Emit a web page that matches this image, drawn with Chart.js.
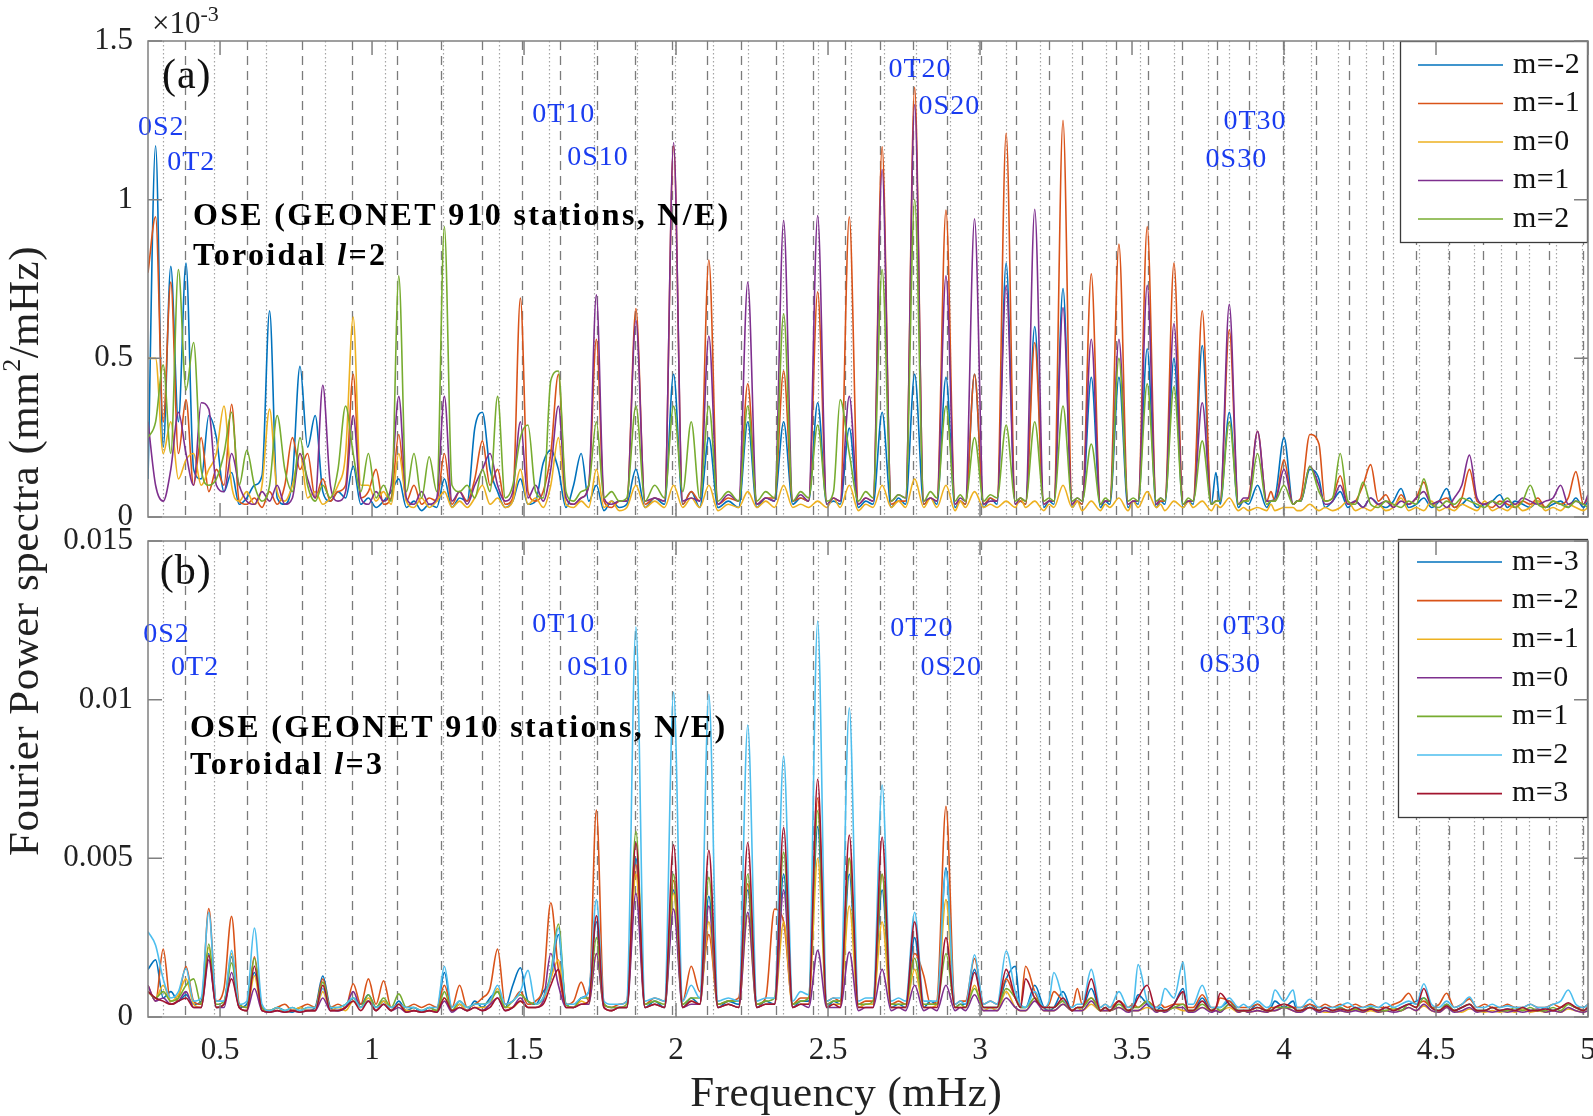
<!DOCTYPE html>
<html><head><meta charset="utf-8">
<script src="https://cdn.jsdelivr.net/npm/chart.js@4.4.1/dist/chart.umd.min.js"></script>
<style>
html,body{margin:0;padding:0;background:#fff;}
#page{position:relative;width:1593px;height:1116px;overflow:hidden;background:#fff;}
#wa{position:absolute;left:0;top:0;width:1593px;height:530px;}
#wb{position:absolute;left:0;top:515px;width:1593px;height:601px;}
#ylab{position:absolute;left:-326px;top:529px;width:700px;height:44px;line-height:44px;text-align:center;
 font-family:'Liberation Serif','Times New Roman',serif;font-size:43px;color:#222;transform:rotate(-90deg);
 transform-origin:50% 50%;white-space:nowrap;letter-spacing:0.5px}
#ylab sup{font-size:26px;line-height:0;vertical-align:18px}
</style></head>
<body><div id="page">
<div id="wa"><canvas id="ca"></canvas></div>
<div id="wb"><canvas id="cb"></canvas></div>
<div id="ylab">Fourier Power spectra (mm<sup>2</sup>/mHz)</div>
</div>
<script>
const XMIN = 0.263, XMAX = 5.0;
const X_TICKS = [0.5,1,1.5,2,2.5,3,3.5,4,4.5,5];
const Y_TICKS_A = [0,0.5,1,1.5];
const Y_TICKS_B = [0,0.005,0.01,0.015];
const X_TITLE = 'Frequency (mHz)';

// frequency grid (mHz) shared by all spectra
const GRID_LOW = [0.263,0.288,0.313,0.338,0.363,0.388,0.413,0.438,0.463,0.488,0.513,0.538,0.563,0.588,0.613,0.638,0.663,0.688,0.713,0.738,0.763,0.788,0.813,0.838,0.863,0.888,0.913,0.938,0.963,0.988,1.013,1.038,1.063,1.088,1.113,1.138,1.163,1.188,1.213,1.238,1.263,1.288,1.313,1.338,1.363,1.388,1.413,1.438,1.463,1.488,1.513,1.538,1.563,1.588,1.613,1.638,1.663,1.688,1.713,1.738,1.763,1.788,1.813];
const GRID_MODE = [
1.838,1.868,1.898,1.930, 1.962,1.992,2.022,2.050, 2.078,2.108,2.138,2.172, 2.206,2.236,2.266,2.295,
2.324,2.354,2.384,2.410, 2.436,2.466,2.496,2.518, 2.540,2.570,2.600,2.624, 2.648,2.678,2.708,2.732,
2.755,2.785,2.815,2.837, 2.858,2.888,2.918,2.935, 2.952,2.982,3.012,3.034, 3.056,3.086,3.116,3.133,
3.150,3.180,3.210,3.227, 3.243,3.273,3.303,3.320, 3.336,3.366,3.396,3.412, 3.427,3.457,3.487,3.504,
3.520,3.550,3.580,3.594, 3.608,3.638,3.668,3.685, 3.701,3.731,3.761,3.776, 3.790,3.820,3.850,3.867,
3.883,3.913,3.943,3.957, 3.970,4.000,4.030,4.043, 4.055,4.085,4.115,4.135];
const GRID_HIGH = [4.16,4.185,4.21,4.235,4.26,4.285,4.31,4.335,4.36,4.385,4.41,4.435,4.46,4.485,4.51,4.535,4.56,4.585,4.61,4.635,4.66,4.685,4.71,4.735,4.76,4.785,4.81,4.835,4.86,4.885,4.91,4.935,4.96,4.985,5.0];
const FREQ = GRID_LOW.concat(GRID_MODE, GRID_HIGH);

// reference mode frequencies (mHz): 0T_l dashed, 0S_l dotted
const T_LINES = [0.385,0.589,0.770,0.934,1.083,1.227,1.362,1.494,1.619,1.741,1.866,1.988,2.103,2.215,2.330,2.449,2.557,2.672,2.781,2.890,3.002,3.117,3.226,3.337,3.446,3.551,3.666,3.778,3.884,3.996,4.104,4.213,4.325,4.434,4.542,4.654,4.763,4.871,4.983];
const S_LINES = [0.312,0.480,0.651,0.846,1.043,1.234,1.418,1.583,1.731,1.870,1.998,2.123,2.238,2.353,2.468,2.574,2.683,2.791,2.900,2.992,3.084,3.196,3.304,3.413,3.525,3.637,3.749,3.818,3.907,4.000,4.090,4.177,4.269,4.358,4.445,4.538,4.624,4.713,4.805,4.894,4.980];

// ---- panel (a): Toroidal l=2, values in 1e-3 mm^2/mHz ----
const a_m2 = [
0.12,1.17,0.22,0.79,0.3,0.80,0.15,0.12,0.32,0.25, 0.08,0.14,0.04,0.06,0.1,0.13,0.65,0.06,0.04,0.12,
0.475,0.22,0.32,0.08,0.05,0.08,0.06,0.16,0.04,0.06, 0.03,0.05,0.08,0.12,0.03,0.05,0.02,0.04,0.03,0.12,
0.03,0.06,0.05,0.28,0.33,0.15,0.08,0.03,0.05,0.12, 0.04,0.05,0.17,0.21,0.15,0.03,0.1,0.2,0.05,0.1, 0.02,0.05,0.03,
0.04,0.15,0.03,0.06, 0.04,0.45,0.04,0.08, 0.03,0.25,0.03,0.05, 0.03,0.30,0.03,0.06, 0.05,0.30,0.04,0.06,
0.05,0.36,0.04,0.05, 0.04,0.28,0.03,0.05, 0.04,0.33,0.03,0.06, 0.04,0.45,0.04,0.06, 0.04,0.44,0.03,0.05,
0.04,0.45,0.03,0.06, 0.04,0.80,0.04,0.05, 0.04,0.60,0.03,0.05, 0.04,0.72,0.03,0.05, 0.04,0.44,0.03,0.05,
0.04,0.44,0.03,0.05, 0.04,0.53,0.03,0.05, 0.04,0.50,0.03,0.05, 0.04,0.54,0.04,0.14, 0.04,0.33,0.03,0.05,
0.04,0.10,0.03,0.05, 0.06,0.25,0.04,0.05, 0.05,0.15,0.12,0.03,
0.05,0.08,0.03,0.05,0.03,0.06,0.04,0.03,0.05,0.09, 0.03,0.04,0.06,0.03,0.05,0.09,0.03,0.04,0.06,0.03,
0.04,0.05,0.07,0.03,0.05,0.04,0.03,0.05,0.03,0.04, 0.05,0.03,0.06,0.03,0.05];
const a_m1 = [
0.77,0.946,0.3,0.74,0.2,0.37,0.1,0.25,0.08,0.15, 0.1,0.355,0.05,0.04,0.06,0.03,0.08,0.04,0.1,0.25,
0.15,0.2,0.06,0.12,0.05,0.08,0.1,0.45,0.06,0.08, 0.15,0.04,0.06,0.26,0.05,0.1,0.04,0.06,0.05,0.2,
0.04,0.08,0.05,0.12,0.24,0.1,0.15,0.04,0.06,0.69, 0.08,0.05,0.08,0.2,0.45,0.06,0.04,0.06,0.1,0.56, 0.05,0.03,0.05,
0.05,0.657,0.04,0.06, 0.05,1.17,0.04,0.08, 0.05,0.81,0.04,0.06, 0.05,0.42,0.04,0.06, 0.06,0.46,0.05,0.06,
0.05,0.71,0.04,0.06, 0.05,0.946,0.04,0.06, 0.05,1.167,0.04,0.05, 0.05,1.354,0.04,0.06, 0.05,0.967,0.04,0.05,
0.04,0.45,0.04,0.06, 0.05,1.21,0.04,0.05, 0.04,0.55,0.04,0.05, 0.05,1.25,0.04,0.05, 0.04,0.766,0.04,0.05,
0.05,0.86,0.04,0.05, 0.05,0.915,0.04,0.05, 0.05,0.80,0.04,0.05, 0.05,0.65,0.04,0.05, 0.05,0.59,0.04,0.05,
0.06,0.27,0.05,0.08, 0.05,0.18,0.04,0.05, 0.06,0.26,0.23,0.05,
0.06,0.13,0.04,0.05,0.1,0.165,0.05,0.07,0.03,0.07, 0.04,0.06,0.11,0.04,0.05,0.06,0.03,0.06,0.15,0.05,
0.04,0.03,0.05,0.04,0.03,0.05,0.04,0.06,0.03,0.05, 0.04,0.06,0.143,0.04,0.06];
const a_0 = [
0.5,0.5,0.2,0.3,0.12,0.18,0.2,0.1,0.15,0.2, 0.35,0.1,0.05,0.08,0.04,0.1,0.34,0.08,0.05,0.1,
0.2,0.06,0.08,0.04,0.06,0.1,0.2,0.63,0.1,0.1, 0.05,0.08,0.04,0.2,0.05,0.03,0.06,0.03,0.05,0.08,
0.03,0.05,0.03,0.06,0.1,0.04,0.06,0.03,0.05,0.15, 0.04,0.06,0.03,0.1,0.25,0.04,0.03,0.05,0.03,0.15, 0.03,0.05,0.02,
0.03,0.10,0.03,0.05, 0.03,0.10,0.03,0.06, 0.03,0.10,0.02,0.04, 0.03,0.08,0.03,0.05, 0.03,0.10,0.03,0.04,
0.03,0.05,0.03,0.06, 0.03,0.10,0.02,0.04, 0.03,0.10,0.03,0.05, 0.03,0.12,0.03,0.06, 0.03,0.10,0.02,0.05,
0.03,0.08,0.03,0.04, 0.03,0.05,0.03,0.06, 0.03,0.05,0.02,0.04, 0.03,0.10,0.03,0.05, 0.02,0.05,0.02,0.04,
0.03,0.06,0.02,0.05, 0.03,0.08,0.03,0.04, 0.02,0.05,0.03,0.05, 0.03,0.05,0.02,0.04, 0.03,0.06,0.02,0.03,
0.02,0.03,0.02,0.04, 0.02,0.03,0.03,0.02, 0.02,0.04,0.02,0.03,
0.02,0.03,0.05,0.02,0.03,0.02,0.04,0.02,0.03,0.06, 0.02,0.03,0.02,0.05,0.02,0.03,0.02,0.04,0.03,0.02,
0.05,0.02,0.03,0.02,0.04,0.02,0.03,0.05,0.02,0.03, 0.02,0.04,0.03,0.02,0.03];
const a_1 = [
0.3,0.1,0.05,0.15,0.33,0.2,0.1,0.36,0.34,0.1, 0.08,0.2,0.1,0.05,0.04,0.08,0.05,0.1,0.04,0.06,
0.2,0.12,0.06,0.415,0.1,0.05,0.08,0.32,0.06,0.04, 0.08,0.05,0.1,0.38,0.06,0.04,0.08,0.04,0.06,0.38,
0.05,0.08,0.04,0.1,0.15,0.2,0.1,0.05,0.08,0.3, 0.06,0.1,0.05,0.15,0.35,0.06,0.04,0.06,0.1,0.70, 0.06,0.04,0.05,
0.05,0.62,0.05,0.06, 0.05,1.18,0.05,0.06, 0.05,0.57,0.04,0.07, 0.05,0.74,0.04,0.06, 0.05,0.935,0.05,0.07,
0.05,0.95,0.04,0.06, 0.05,0.38,0.04,0.06, 0.05,1.095,0.05,0.07, 0.06,1.30,0.05,0.06, 0.05,0.76,0.04,0.06,
0.05,0.94,0.04,0.05, 0.05,0.73,0.04,0.06, 0.05,0.97,0.04,0.05, 0.05,0.66,0.04,0.06, 0.05,0.56,0.04,0.05,
0.05,0.56,0.04,0.05, 0.05,0.73,0.04,0.06, 0.05,0.61,0.04,0.05, 0.05,0.36,0.04,0.05, 0.05,0.67,0.04,0.06,
0.06,0.27,0.05,0.05, 0.05,0.15,0.04,0.05, 0.05,0.16,0.1,0.04,
0.05,0.1,0.04,0.05,0.03,0.06,0.04,0.05,0.03,0.05, 0.04,0.06,0.08,0.04,0.05,0.03,0.06,0.1,0.195,0.06,
0.04,0.05,0.03,0.05,0.04,0.06,0.05,0.04,0.05,0.06, 0.1,0.04,0.05,0.04,0.07];
const a_2 = [
0.25,0.3,0.48,0.2,0.78,0.4,0.55,0.15,0.1,0.12, 0.2,0.33,0.1,0.21,0.1,0.05,0.1,0.32,0.15,0.08,
0.25,0.1,0.05,0.1,0.06,0.15,0.35,0.2,0.08,0.2, 0.06,0.1,0.05,0.76,0.08,0.2,0.06,0.19,0.08,0.915,
0.1,0.08,0.1,0.06,0.15,0.08,0.38,0.06,0.1,0.25, 0.29,0.08,0.06,0.43,0.46,0.08,0.05,0.08,0.1,0.3, 0.06,0.08,0.05,
0.06,0.35,0.05,0.1, 0.06,0.35,0.08,0.30, 0.06,0.35,0.05,0.08, 0.05,0.35,0.05,0.08, 0.06,0.64,0.05,0.08,
0.06,0.29,0.05,0.08, 0.37,0.2,0.05,0.08, 0.06,0.78,0.05,0.07, 0.06,1.0,0.05,0.08, 0.06,0.35,0.05,0.07,
0.05,0.25,0.05,0.07, 0.06,0.29,0.05,0.06, 0.05,0.3,0.05,0.06, 0.05,0.35,0.05,0.06, 0.05,0.23,0.04,0.06,
0.05,0.5,0.05,0.06, 0.05,0.42,0.05,0.06, 0.05,0.41,0.04,0.06, 0.05,0.24,0.04,0.05, 0.05,0.3,0.04,0.05,
0.05,0.2,0.04,0.05, 0.05,0.1,0.04,0.05, 0.05,0.16,0.08,0.05,
0.06,0.2,0.05,0.04,0.11,0.04,0.03,0.05,0.04,0.03, 0.05,0.04,0.12,0.04,0.03,0.05,0.04,0.06,0.05,0.04,
0.03,0.05,0.04,0.06,0.03,0.05,0.1,0.04,0.03,0.05, 0.04,0.03,0.05,0.04,0.03];

// ---- panel (b): Toroidal l=3, values in 1e-3 mm^2/mHz ----
const b_m3 = [
1.5,1.8,0.6,0.8,0.5,0.7,0.4,0.5,2.0,0.3, 0.4,1.9,0.3,0.4,1.4,0.3,0.15,0.3,0.2,0.15,
0.3,0.2,0.3,1.29,0.3,0.2,0.3,0.6,0.4,0.7, 0.3,0.5,0.2,0.5,0.2,0.3,0.15,0.3,0.2,1.4,
0.2,0.4,0.2,0.5,0.3,0.6,0.8,0.3,1.0,1.55, 0.5,0.4,0.8,1.2,2.6,0.4,0.3,0.6,0.8,3.0, 0.4,0.3,0.3,
0.3,5.0,0.3,0.5, 0.3,4.0,0.3,0.6, 0.4,3.8,0.3,0.5, 0.4,4.0,0.3,0.5, 0.4,4.5,0.3,0.5,
0.5,6.0,0.3,0.5, 0.4,4.5,0.3,0.4, 0.4,4.0,0.3,0.4, 0.3,2.5,0.3,0.5, 0.4,4.7,0.3,0.4,
0.4,1.5,0.3,0.3, 0.3,1.2,1.6,0.3, 0.3,1.0,0.3,0.2, 0.3,0.8,0.2,0.3, 0.3,0.9,0.2,0.3,
0.2,0.5,0.2,0.3, 0.7,0.4,0.2,0.3, 0.2,0.4,0.9,0.2, 0.2,0.6,0.2,0.3, 0.3,0.5,0.2,0.2,
0.2,0.4,0.2,0.3, 0.5,0.3,0.5,0.2, 0.2,0.4,0.2,0.3,
0.2,0.3,0.2,0.3,0.2,0.25,0.2,0.3,0.2,0.3, 0.4,0.5,0.6,0.3,0.2,0.4,0.2,0.3,0.4,0.2,
0.2,0.3,0.2,0.25,0.2,0.3,0.2,0.2,0.3,0.2, 0.3,0.4,0.3,0.2,0.3];
const b_m2 = [
1.0,0.5,2.14,0.4,0.6,1.59,0.5,0.4,3.42,0.5, 0.9,3.17,0.4,0.3,1.9,0.3,0.2,0.3,0.4,0.2,
0.3,0.4,0.3,1.2,0.3,0.4,0.3,1.05,0.4,1.2, 0.4,1.14,0.3,0.4,0.3,0.4,0.3,0.4,0.3,1.0,
0.3,1.0,0.3,0.4,0.6,0.9,2.14,0.4,0.5,0.8, 0.4,0.5,1.0,3.6,1.5,0.4,0.5,1.1,0.5,6.52, 0.4,0.3,0.4,
0.5,4.8,0.4,0.6, 0.5,4.3,0.5,1.6, 0.8,2.6,0.4,0.5, 0.6,4.2,0.4,0.6, 3.4,3.0,0.4,0.6,
0.6,6.9,0.5,0.6, 0.5,5.0,0.4,0.5, 0.5,4.5,0.4,0.5, 0.4,2.0,1.3,0.4, 0.5,6.64,0.4,0.5,
0.5,1.84,0.4,0.5, 0.4,1.2,0.6,0.4, 1.6,0.8,0.3,0.4, 0.8,0.5,0.3,0.9, 0.4,0.6,0.3,0.4,
0.3,0.5,0.3,0.4, 0.3,0.5,0.3,0.4, 0.3,0.4,0.4,0.3, 0.3,0.7,0.3,0.3, 0.6,0.5,0.3,0.3,
0.3,0.4,0.2,0.3, 0.3,0.4,0.3,0.3, 0.3,0.4,0.3,0.4,
0.3,0.4,0.3,0.4,0.3,0.4,0.3,0.3,0.4,0.5, 0.75,0.4,0.5,0.3,0.4,0.75,0.3,0.4,0.57,0.3,
0.4,0.3,0.3,0.4,0.3,0.3,0.4,0.3,0.3,0.4, 0.3,0.4,0.3,0.3,0.4];
const b_m1 = [
0.8,0.6,1.0,0.5,0.7,1.2,0.4,0.3,2.2,0.3, 0.4,2.0,0.3,0.2,1.3,0.2,0.2,0.3,0.15,0.2,
0.3,0.2,0.2,0.8,0.2,0.3,0.2,0.5,0.3,0.6, 0.2,0.5,0.2,0.4,0.2,0.2,0.15,0.2,0.2,0.6,
0.2,0.4,0.2,0.3,0.3,0.4,0.9,0.3,0.3,0.5, 0.3,0.3,0.5,1.2,1.8,0.3,0.3,0.5,0.4,2.0, 0.3,0.2,0.3,
0.3,4.5,0.3,0.4, 0.3,3.9,0.3,0.5, 0.4,3.0,0.3,0.4, 0.3,3.2,0.3,0.4, 0.4,3.0,0.3,0.4,
0.4,5.0,0.3,0.4, 0.4,3.5,0.3,0.4, 0.4,3.0,0.3,0.3, 0.3,1.5,0.3,0.3, 0.4,3.7,0.3,0.3,
0.3,1.0,0.2,0.3, 0.2,0.8,0.3,0.2, 0.2,0.6,0.2,0.2, 0.2,0.4,0.2,0.3, 0.2,0.4,0.2,0.2,
0.2,0.3,0.2,0.2, 0.2,0.3,0.2,0.2, 0.2,0.3,0.2,0.2, 0.2,0.3,0.2,0.2, 0.2,0.3,0.15,0.2,
0.15,0.2,0.15,0.2, 0.2,0.3,0.2,0.15, 0.2,0.3,0.2,0.15,
0.15,0.2,0.15,0.25,0.15,0.2,0.15,0.2,0.25,0.2, 0.3,0.2,0.35,0.2,0.15,0.3,0.2,0.15,0.25,0.2,
0.15,0.2,0.15,0.2,0.15,0.25,0.15,0.2,0.15,0.2, 0.15,0.25,0.2,0.15,0.2];
const b_0 = [
1.0,0.5,0.6,0.4,0.5,0.8,0.3,0.3,1.8,0.3, 0.3,1.4,0.3,0.2,0.9,0.2,0.15,0.2,0.15,0.2,
0.15,0.2,0.2,0.6,0.2,0.2,0.3,0.8,0.3,0.5, 0.2,0.4,0.2,0.3,0.15,0.2,0.15,0.2,0.15,0.5,
0.15,0.3,0.2,0.3,0.2,0.4,0.6,0.2,0.3,0.6, 0.3,0.3,0.5,2.0,1.0,0.3,0.3,0.4,0.4,2.0, 0.3,0.2,0.3,
0.3,3.9,0.3,0.4, 0.3,3.4,0.3,0.4, 0.4,3.5,0.3,0.4, 0.3,3.3,0.3,0.4, 0.4,4.0,0.3,0.4,
0.3,2.1,0.3,0.3, 0.3,2.05,0.2,0.3, 0.3,1.5,0.2,0.3, 0.2,1.0,0.2,0.3, 0.2,1.0,0.2,0.3,
0.2,0.7,0.2,0.2, 0.2,0.6,0.3,0.2, 0.2,0.5,0.2,0.2, 0.2,0.4,0.2,0.2, 0.2,0.5,0.2,0.2,
0.2,0.3,0.15,0.2, 0.2,0.4,0.15,0.2, 0.15,0.3,0.3,0.15, 0.15,0.3,0.15,0.2, 0.15,0.4,0.15,0.2,
0.15,0.2,0.15,0.2, 0.2,0.3,0.2,0.15, 0.15,0.3,0.15,0.2,
0.15,0.2,0.15,0.2,0.15,0.25,0.15,0.2,0.15,0.2, 0.3,0.2,0.4,0.2,0.15,0.3,0.15,0.2,0.3,0.15,
0.2,0.15,0.2,0.15,0.2,0.15,0.2,0.25,0.15,0.2, 0.15,0.3,0.2,0.15,0.2];
const b_1 = [
0.8,0.6,0.8,0.5,0.6,1.0,1.2,0.4,2.3,0.4, 0.5,1.7,0.4,0.3,1.85,0.3,0.2,0.3,0.2,0.3,
0.2,0.3,0.3,1.1,0.3,0.3,0.4,0.6,0.3,0.7, 0.3,0.6,0.3,0.73,0.3,0.3,0.2,0.3,0.2,0.8,
0.2,0.5,0.3,0.4,0.4,0.5,0.8,0.3,0.5,0.7, 0.5,0.4,0.6,1.4,2.93,0.4,0.3,0.6,0.6,2.5, 0.4,0.3,0.3,
0.4,5.85,0.4,0.5, 0.4,4.5,0.4,0.6, 0.6,4.4,0.4,0.5, 0.5,4.5,0.4,0.5, 0.6,5.2,0.4,0.5,
0.6,6.5,0.4,0.5, 0.5,5.0,0.4,0.4, 0.5,4.5,0.4,0.4, 0.4,1.85,0.4,0.4, 0.4,2.0,0.3,0.4,
0.3,0.9,0.3,0.3, 0.3,0.9,0.6,0.3, 0.3,0.6,0.3,0.3, 0.3,0.5,0.2,0.3, 0.3,0.6,0.2,0.3,
0.2,0.4,0.2,0.3, 0.3,0.5,0.2,0.2, 0.2,0.3,0.4,0.2, 0.2,0.4,0.2,0.3, 0.2,0.4,0.2,0.2,
0.2,0.3,0.2,0.2, 0.3,0.3,0.3,0.2, 0.2,0.3,0.2,0.3,
0.2,0.3,0.2,0.25,0.2,0.3,0.2,0.2,0.3,0.2, 0.4,0.3,0.6,0.3,0.2,0.4,0.2,0.3,0.4,0.2,
0.2,0.3,0.2,0.2,0.3,0.2,0.3,0.2,0.2,0.3, 0.2,0.4,0.3,0.2,0.3];
const b_2 = [
2.69,2.26,1.2,0.6,0.8,1.53,0.5,0.6,3.3,0.5, 0.5,2.1,0.4,0.5,2.8,0.4,0.2,0.3,0.2,0.3,
0.2,0.3,0.3,0.9,0.3,0.3,0.4,0.6,0.3,0.5, 0.3,0.4,0.3,0.4,0.3,0.3,0.2,0.3,0.3,1.59,
0.3,0.5,0.3,0.4,0.4,0.5,1.0,0.4,0.5,0.8, 1.47,0.4,0.6,1.3,2.8,0.4,0.4,0.6,0.8,3.7, 0.5,0.4,0.4,
0.5,12.3,0.5,0.6, 0.5,10.23,0.5,1.0, 0.6,10.17,0.5,0.6, 0.5,9.2,0.5,0.6, 0.6,8.22,0.5,0.8,
0.7,12.48,0.5,0.6, 0.6,9.74,0.5,0.6, 0.6,7.31,0.5,0.6, 0.5,3.3,0.5,0.5, 0.5,4.6,0.4,0.5,
0.4,1.96,0.4,0.5, 0.4,2.08,0.8,0.4, 0.3,0.8,0.3,0.5, 1.4,0.6,0.3,0.4, 0.4,1.5,0.3,0.4,
0.3,0.8,0.3,0.4, 1.65,0.5,0.3,0.4, 0.9,0.6,1.72,0.4, 0.4,1.0,0.3,0.3, 0.3,0.6,0.3,0.4,
0.3,0.5,0.3,0.4, 0.85,0.5,0.85,0.3, 0.3,0.56,0.3,0.3,
0.3,0.35,0.45,0.3,0.3,0.35,0.3,0.45,0.3,0.4, 0.5,0.4,1.05,0.4,0.3,0.5,0.3,0.4,0.63,0.3,
0.3,0.4,0.3,0.35,0.3,0.3,0.4,0.3,0.3,0.4, 0.5,0.85,0.4,0.3,0.4];
const b_3 = [
0.8,0.6,0.5,0.4,0.5,0.6,0.3,0.3,1.94,0.3, 0.4,1.2,0.3,0.2,1.6,0.2,0.15,0.2,0.15,0.2,
0.15,0.2,0.2,1.0,0.2,0.2,0.3,0.5,0.2,0.5, 0.2,0.4,0.2,0.4,0.15,0.2,0.15,0.2,0.15,0.6,
0.2,0.3,0.2,0.3,0.2,0.3,0.6,0.2,0.3,0.5, 0.3,0.3,0.4,1.0,1.5,0.3,0.3,0.4,0.5,3.2, 0.3,0.2,0.3,
0.3,5.49,0.3,0.4, 0.3,5.43,0.3,0.5, 0.4,5.25,0.3,0.4, 0.3,5.5,0.3,0.4, 0.4,5.97,0.3,0.4,
0.4,7.49,0.3,0.4, 0.3,5.73,0.3,0.3, 0.3,5.67,0.3,0.3, 0.3,3.0,0.3,0.3, 0.3,2.5,0.3,0.3,
0.3,1.4,0.3,0.3, 0.3,1.5,0.6,0.3, 1.2,0.6,0.3,0.3, 0.3,0.6,0.2,0.3, 0.3,1.2,0.2,0.3,
0.2,0.5,0.2,0.3, 0.6,1.0,0.2,0.2, 0.2,0.4,0.8,0.2, 0.2,0.5,0.2,0.3, 0.75,0.4,0.2,0.2,
0.2,0.3,0.2,0.2, 0.3,0.4,0.3,0.2, 0.2,0.3,0.2,0.3,
0.2,0.25,0.2,0.3,0.2,0.25,0.2,0.3,0.2,0.3, 0.4,0.3,0.9,0.3,0.2,0.35,0.2,0.3,0.4,0.2,
0.2,0.3,0.2,0.25,0.2,0.3,0.2,0.2,0.25,0.2, 0.3,0.45,0.3,0.2,0.3];

const COLORS = ['#0072BD','#D95319','#EDB120','#7E2F8E','#77AC30','#4DBEEE','#A2142F'];
const LEGEND_A = ['m=-2','m=-1','m=0','m=1','m=2'];
const LEGEND_B = ['m=-3','m=-2','m=-1','m=0','m=1','m=2','m=3'];

// mode annotations: [text, frequency (mHz), height in panel units]
const MODE_LABELS_A = [['0S2',0.230,1.226],['0T2',0.326,1.116],['0T10',1.527,1.267],['0S10',1.642,1.131],['0T20',2.699,1.409],['0S20',2.798,1.292],['0T30',3.801,1.245],['0S30',3.742,1.125]];
const MODE_LABELS_B = [['0S2',0.247,12.06],['0T2',0.339,11.02],['0T10',1.527,12.37],['0S10',1.642,11.02],['0T20',2.705,12.23],['0S20',2.804,11.02],['0T30',3.798,12.30],['0S30',3.722,11.09]];

const FONT = "'Liberation Serif','Times New Roman',serif";
Chart.defaults.font.family = FONT;

function mk(vals, scale){
  const n = Math.min(vals.length, FREQ.length), out = [];
  if (vals.length !== FREQ.length) console.warn('length mismatch', vals.length, FREQ.length);
  for (let i = 0; i < n; i++) out.push({x: FREQ[i], y: vals[i] * scale});
  return out;
}

function panelPlugin(cfg){
  function txt(ctx, s, x, y, font, color, ls){
    ctx.font = font; ctx.fillStyle = color; ctx.letterSpacing = ls || '0px';
    ctx.textAlign = 'left'; ctx.textBaseline = 'middle'; ctx.fillText(s, x, y);
    return ctx.measureText(s).width;
  }
  return {
    id: 'panel' + cfg.id,
    beforeDatasetsDraw(chart){
      const ctx = chart.ctx, a = chart.chartArea, xs = chart.scales.x;
      ctx.save();
      ctx.beginPath(); ctx.rect(a.left, a.top, a.right - a.left, a.bottom - a.top); ctx.clip();
      const vline = (f, color, w, dash) => {
        const px = Math.round(xs.getPixelForValue(f)) + 0.5;
        ctx.strokeStyle = color; ctx.lineWidth = w; ctx.setLineDash(dash);
        ctx.beginPath(); ctx.moveTo(px, a.top); ctx.lineTo(px, a.bottom); ctx.stroke();
      };
      S_LINES.forEach(f => vline(f, '#a4a4a4', 1.2, [1.5, 2.5]));
      T_LINES.forEach(f => vline(f, '#7b7b7b', 1.3, [9, 6]));
      ctx.restore();
    },
    afterDraw(chart){
      const ctx = chart.ctx, a = chart.chartArea, xs = chart.scales.x, ys = chart.scales.y;
      ctx.save();
      ctx.setLineDash([]);
      // text annotations
      cfg.modeLabels.forEach(([t, f, v]) => {
        txt(ctx, t, xs.getPixelForValue(f), ys.getPixelForValue(v * cfg.scale), '28px ' + FONT, '#1a3cf0', '1px');
      });
      txt(ctx, cfg.panel[0], xs.getPixelForValue(cfg.panel[1]), ys.getPixelForValue(cfg.panel[2] * cfg.scale), '42px ' + FONT, '#111', '1px');
      const ox = xs.getPixelForValue(cfg.info[0]);
      txt(ctx, 'OSE (GEONET 910 stations, N/E)', ox, ys.getPixelForValue(cfg.info[1] * cfg.scale), 'bold 32px ' + FONT, '#000', '2.3px');
      const ty = ys.getPixelForValue(cfg.info[2] * cfg.scale);
      let w = txt(ctx, 'Toroidal ', ox, ty, 'bold 32px ' + FONT, '#000', '2.3px');
      w += txt(ctx, 'l', ox + w, ty, 'bold italic 32px ' + FONT, '#000', '2.3px');
      txt(ctx, '=' + cfg.degree, ox + w, ty, 'bold 32px ' + FONT, '#000', '2.3px');
      if (cfg.exponent) {
        ctx.letterSpacing = '0px';
        ctx.textAlign = 'left'; ctx.textBaseline = 'alphabetic'; ctx.fillStyle = '#222';
        ctx.font = '31px ' + FONT; ctx.fillText('\u00d710', a.left + 4, a.top - 8);
        const ew = ctx.measureText('\u00d710').width;
        ctx.font = '22px ' + FONT; ctx.fillText('-3', a.left + 4 + ew, a.top - 20);
      }
      if (cfg.showX) {
        // x-axis title, placed a little left of the axes centre as in the original figure
        ctx.letterSpacing = '0.5px';
        ctx.font = '43px ' + FONT; ctx.fillStyle = '#222';
        ctx.textAlign = 'center'; ctx.textBaseline = 'middle';
        ctx.fillText(X_TITLE, xs.getPixelForValue(2.56), chart.height - 21.5);
      }
      // legend
      const L = cfg.legend, lx = a.right - L.w, lt = a.top + L.dy;
      ctx.fillStyle = '#fff'; ctx.fillRect(lx, lt, L.w, L.h);
      ctx.strokeStyle = '#3a3a3a'; ctx.lineWidth = 1.3; ctx.strokeRect(lx + 0.5, lt + 0.5, L.w - 1, L.h - 1);
      cfg.labels.forEach((lab, i) => {
        const y = lt + L.first + i * L.step;
        ctx.strokeStyle = COLORS[i]; ctx.lineWidth = 1.6;
        ctx.beginPath(); ctx.moveTo(lx + L.l0, y); ctx.lineTo(lx + L.l1, y); ctx.stroke();
        txt(ctx, lab, lx + L.tx, y, '30px ' + FONT, '#111', '0.5px');
      });
      // axes box and inner ticks
      ctx.strokeStyle = '#808080'; ctx.lineWidth = 1.5;
      ctx.strokeRect(a.left, a.top, a.right - a.left, a.bottom - a.top);
      ctx.beginPath();
      X_TICKS.forEach(v => {
        const px = xs.getPixelForValue(v);
        ctx.moveTo(px, a.bottom); ctx.lineTo(px, a.bottom - 14);
        ctx.moveTo(px, a.top); ctx.lineTo(px, a.top + 14);
      });
      cfg.yticks.forEach(v => {
        const py = ys.getPixelForValue(v);
        ctx.moveTo(a.left, py); ctx.lineTo(a.left + 14, py);
        ctx.moveTo(a.right, py); ctx.lineTo(a.right - 14, py);
      });
      ctx.stroke();
      ctx.restore();
    }
  };
}

function makeChart(id, cfg){
  const n = cfg.series.length;
  return new Chart(document.getElementById(id), {
    type: 'line',
    data: { datasets: cfg.series.map((vals, i) => ({
      label: cfg.labels[i], data: mk(vals, cfg.scale), borderColor: COLORS[i], backgroundColor: COLORS[i],
      borderWidth: 1.6, pointRadius: 0, fill: false, cubicInterpolationMode: 'monotone', order: n - 1 - i, clip: 0
    })) },
    options: {
      responsive: true, maintainAspectRatio: false, animation: false, devicePixelRatio: 1, events: [],
      layout: { padding: { left: 0, right: 5, top: cfg.padTop, bottom: 0 } },
      plugins: { legend: { display: false }, tooltip: { enabled: false } },
      scales: {
        x: {
          type: 'linear', min: XMIN, max: XMAX,
          grid: { display: false, drawTicks: false }, border: { display: false },
          ticks: { display: cfg.showX, padding: 15, font: { size: 31 }, color: '#222', callback: v => String(v) },
          afterBuildTicks: s => { s.ticks = X_TICKS.map(v => ({ value: v })); },
          title: { display: false },
          afterFit: s => { s.height = cfg.xHeight; s.paddingLeft = 0; s.paddingRight = 0; }
        },
        y: {
          type: 'linear', min: 0, max: cfg.ymax,
          grid: { display: false, drawTicks: false }, border: { display: false },
          ticks: { padding: 15, font: { size: 31 }, color: '#222', callback: v => String(v) },
          afterBuildTicks: s => { s.ticks = cfg.yticks.map(v => ({ value: v })); },
          afterFit: s => { s.width = 148; s.paddingTop = 0; s.paddingBottom = 0; }
        }
      }
    },
    plugins: [panelPlugin(cfg)]
  });
}

makeChart('ca', {
  id: 'A', series: [a_m2, a_m1, a_0, a_1, a_2], labels: LEGEND_A, scale: 1, ymax: 1.5, yticks: Y_TICKS_A,
  padTop: 41, xHeight: 13, showX: false, exponent: true, degree: 2,
  modeLabels: MODE_LABELS_A, panel: ['(a)', 0.309, 1.387], info: [0.411, 0.945, 0.819],
  legend: { w: 188, h: 202, dy: 0, first: 24, step: 38.5, l0: 18, l1: 103, tx: 113 }
});
makeChart('cb', {
  id: 'B', series: [b_m3, b_m2, b_m1, b_0, b_1, b_2, b_3], labels: LEGEND_B, scale: 0.001, ymax: 0.015, yticks: Y_TICKS_B,
  padTop: 26, xHeight: 99, showX: true, exponent: false, degree: 3,
  modeLabels: MODE_LABELS_B, panel: ['(b)', 0.302, 14.0], info: [0.401, 9.08, 7.93],
  legend: { w: 190, h: 279, dy: -2, first: 23, step: 38.6, l0: 19, l1: 104, tx: 114 }
});
</script>
</body></html>
